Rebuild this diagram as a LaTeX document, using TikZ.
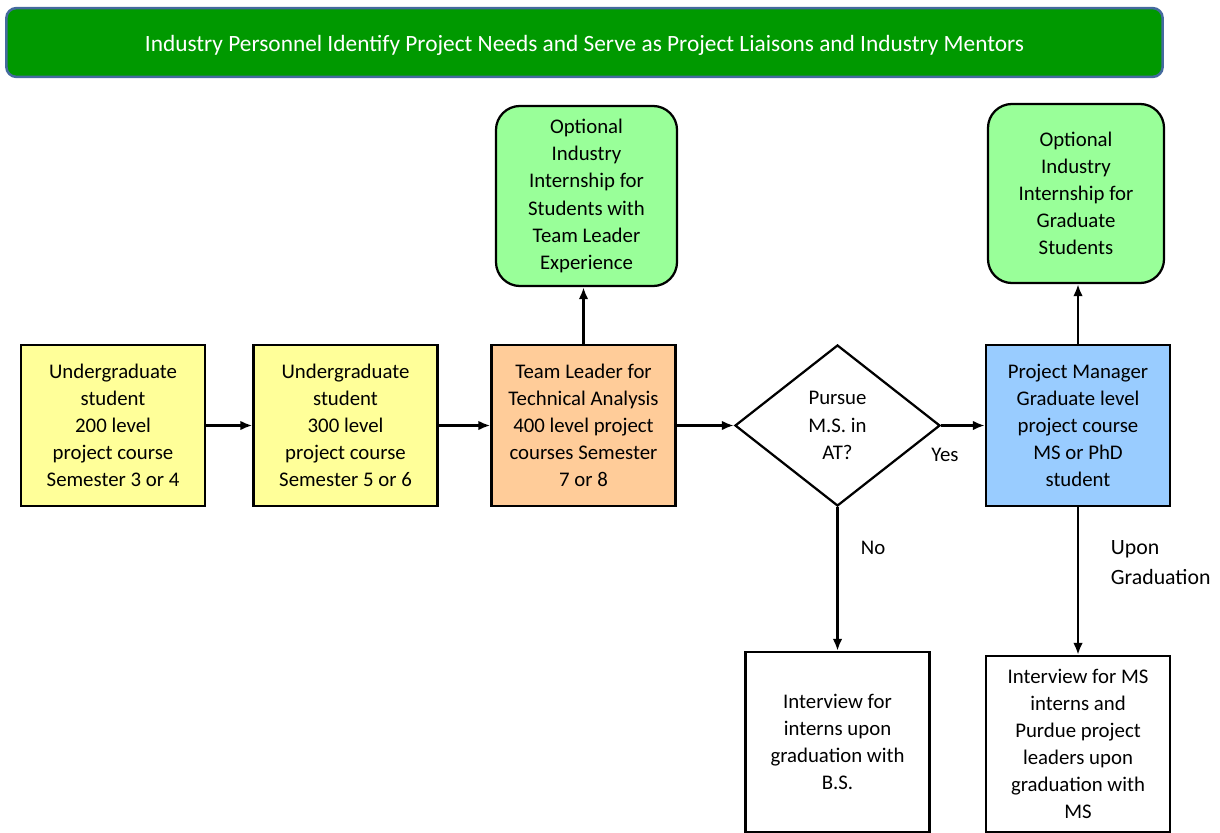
\documentclass[tikz,border=0pt]{standalone}
\usepackage{fontspec}
\setmainfont{Carlito}
\usetikzlibrary{shapes.geometric,arrows.meta}
\definecolor{bannergreen}{RGB}{0,153,0}
\definecolor{bannerblue}{RGB}{68,106,158}
\definecolor{mintgreen}{RGB}{153,255,153}
\definecolor{paleyellow}{RGB}{255,255,153}
\definecolor{peach}{RGB}{255,204,153}
\definecolor{skyblue}{RGB}{153,204,255}
\begin{document}
\begin{tikzpicture}[x=0.025cm, y=-0.025cm, >={Latex[length=0.3cm,width=0.24cm]},
    every node/.style={font=\fontsize{14.8}{19.3}\selectfont},
    stagebox/.style={draw, line width=1.6pt, align=center, inner sep=2pt,
      minimum width=4.6cm, minimum height=4.025cm},
    internbox/.style={stagebox, fill=mintgreen, rounded corners=0.6cm},
    flow/.style={->, line width=1.7pt}]
      \useasboundingbox (0,0) rectangle (1220,833);
      % banner
      \node at (584.5,42.5)[draw=bannerblue, line width=1.8pt, fill=bannergreen, rounded corners=0.25cm,
        minimum width=28.9cm, minimum height=1.72cm, text height=16pt, text=white,
        font=\fontsize{16.6}{19.3}\selectfont] (banner){Industry Personnel Identify Project Needs and Serve as Project Liaisons and Industry Mentors};
      % internships
      \node at (586.5,196)[internbox, minimum width=4.525cm, minimum height=4.5cm] (intern1){Optional\\Industry\\Internship for\\Students with\\Team Leader\\Experience};
      \node at (1076,193.5)[internbox, minimum width=4.4cm, minimum height=4.475cm] (intern2){Optional\\Industry\\Internship for\\Graduate\\Students};
      % main row
      \node at (113,425.5)[stagebox, fill=paleyellow] (ug200){Undergraduate\\student\\200 level\\project course\\Semester 3 or 4};
      \node at (345.5,425.5)[stagebox, fill=paleyellow] (ug300){Undergraduate\\student\\300 level\\project course\\Semester 5 or 6};
      \node at (583.5,425.5)[stagebox, fill=peach] (leader){Team Leader for\\Technical Analysis\\400 level project\\courses Semester\\7 or 8};
      \node at (837.5,425.5)[draw, diamond, line width=1.6pt, align=center, inner sep=0pt,
        minimum width=5.125cm, minimum height=4.025cm] (pursue){Pursue\\M.S. in\\AT?};
      \node at (1078,425.5)[stagebox, fill=skyblue] (manager){Project Manager\\Graduate level\\project course\\MS or PhD\\student};
      % outcomes
      \node at (837.5,742)[stagebox, minimum height=4.5cm] (bsjob){Interview for\\interns upon\\graduation with\\B.S.};
      \node at (1078,744)[stagebox, minimum height=4.4cm] (msjob){Interview for MS\\interns and\\Purdue project\\leaders upon\\graduation with\\MS};
      % labels
      \node at (945,455) (yes){Yes};
      \node at (873,548) (no){No};
      \node at (1106,563)[anchor=west, align=left, font=\fontsize{15.5}{21.3}\selectfont] (upon){Upon\\Graduation};
      % connectors
      \draw[flow] (ug200) -- (ug300);
      \draw[flow] (ug300) -- (leader);
      \draw[flow] (leader) -- (pursue);
      \draw[flow] (pursue) -- (manager);
      \draw[flow] (leader.north) -- (leader.north |- intern1.south);
      \draw[flow] (manager.north) -- (manager.north |- intern2.south);
      \draw[flow] (pursue.south) -- (bsjob.north);
      \draw[flow] (manager.south) -- (msjob.north);
\end{tikzpicture}
\end{document}
